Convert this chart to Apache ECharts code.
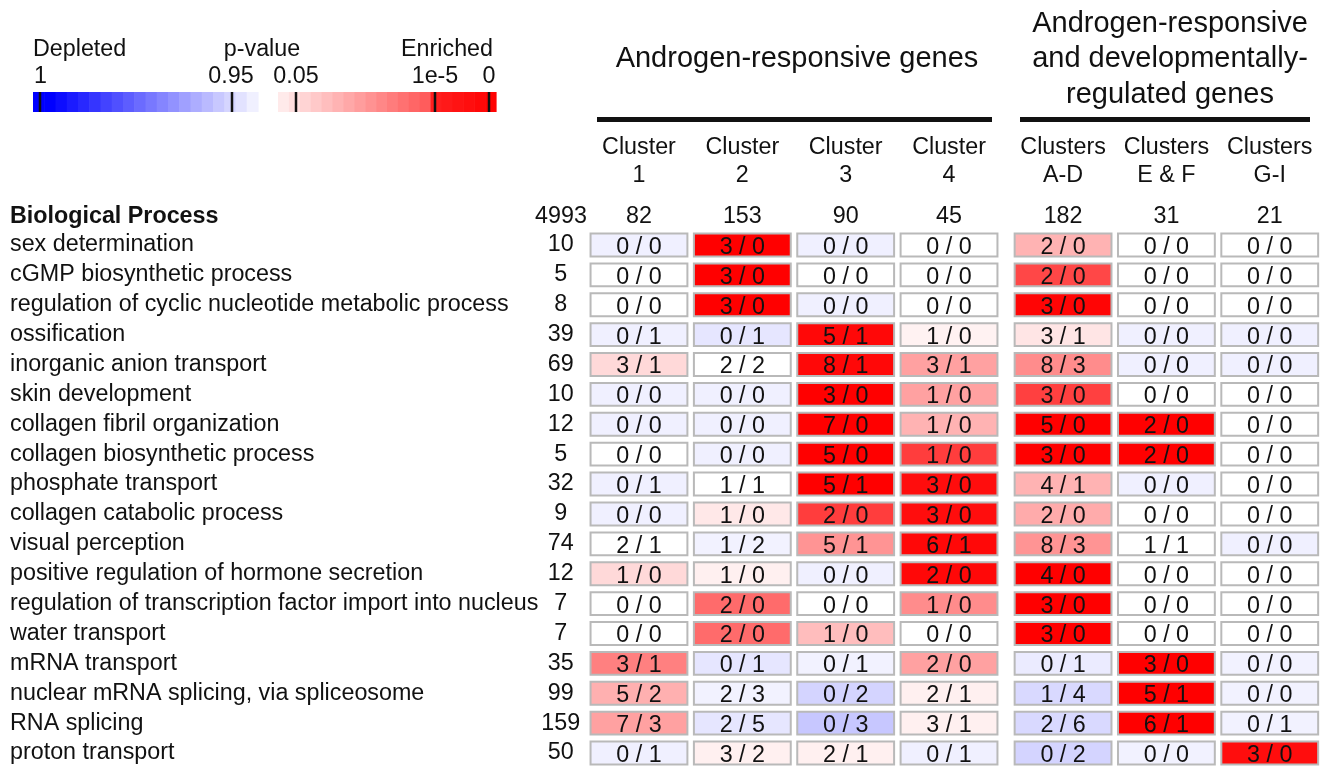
<!DOCTYPE html>
<html><head><meta charset="utf-8">
<script src="https://cdn.jsdelivr.net/npm/echarts@6/dist/echarts.min.js"></script>
<style>html,body{margin:0;padding:0;background:#fff}#c{width:1326px;height:768px}</style>
</head><body><div id="c"></div>
<script>
const processes = [
  'sex determination',
  'cGMP biosynthetic process',
  'regulation of cyclic nucleotide metabolic process',
  'ossification',
  'inorganic anion transport',
  'skin development',
  'collagen fibril organization',
  'collagen biosynthetic process',
  'phosphate transport',
  'collagen catabolic process',
  'visual perception',
  'positive regulation of hormone secretion',
  'regulation of transcription factor import into nucleus',
  'water transport',
  'mRNA transport',
  'nuclear mRNA splicing, via spliceosome',
  'RNA splicing',
  'proton transport'
];
const processTotals = [10, 5, 8, 39, 69, 10, 12, 5, 32, 9, 74, 12, 7, 7, 35, 99, 159, 50];
const totalAll = 4993;
const groupATitle = 'Androgen-responsive genes';
const groupBTitle = 'Androgen-responsive\nand developmentally-\nregulated genes';
const groupAColumns = ['Cluster\n1', 'Cluster\n2', 'Cluster\n3', 'Cluster\n4'];
const groupATotals = [82, 153, 90, 45];
const groupBColumns = ['Clusters\nA-D', 'Clusters\nE & F', 'Clusters\nG-I'];
const groupBTotals = [182, 31, 21];

// "up / down" gene counts per row: 4 group-A columns then 3 group-B columns
const cellLabels = [
  ['0 / 0','3 / 0','0 / 0','0 / 0','2 / 0','0 / 0','0 / 0'],
  ['0 / 0','3 / 0','0 / 0','0 / 0','2 / 0','0 / 0','0 / 0'],
  ['0 / 0','3 / 0','0 / 0','0 / 0','3 / 0','0 / 0','0 / 0'],
  ['0 / 1','0 / 1','5 / 1','1 / 0','3 / 1','0 / 0','0 / 0'],
  ['3 / 1','2 / 2','8 / 1','3 / 1','8 / 3','0 / 0','0 / 0'],
  ['0 / 0','0 / 0','3 / 0','1 / 0','3 / 0','0 / 0','0 / 0'],
  ['0 / 0','0 / 0','7 / 0','1 / 0','5 / 0','2 / 0','0 / 0'],
  ['0 / 0','0 / 0','5 / 0','1 / 0','3 / 0','2 / 0','0 / 0'],
  ['0 / 1','1 / 1','5 / 1','3 / 0','4 / 1','0 / 0','0 / 0'],
  ['0 / 0','1 / 0','2 / 0','3 / 0','2 / 0','0 / 0','0 / 0'],
  ['2 / 1','1 / 2','5 / 1','6 / 1','8 / 3','1 / 1','0 / 0'],
  ['1 / 0','1 / 0','0 / 0','2 / 0','4 / 0','0 / 0','0 / 0'],
  ['0 / 0','2 / 0','0 / 0','1 / 0','3 / 0','0 / 0','0 / 0'],
  ['0 / 0','2 / 0','1 / 0','0 / 0','3 / 0','0 / 0','0 / 0'],
  ['3 / 1','0 / 1','0 / 1','2 / 0','0 / 1','3 / 0','0 / 0'],
  ['5 / 2','2 / 3','0 / 2','2 / 1','1 / 4','5 / 1','0 / 0'],
  ['7 / 3','2 / 5','0 / 3','3 / 1','2 / 6','6 / 1','0 / 1'],
  ['0 / 1','3 / 2','2 / 1','0 / 1','0 / 2','0 / 0','3 / 0']
];
// colour score read from the cell shade: -1 = strongly depleted (blue), 0 = neutral, 1 = strongly enriched (red)
const cellScores = [
  [-0.06, 1.00, -0.06, 0.00, 0.30, 0.00, 0.00],
  [ 0.00, 1.00,  0.00, 0.00, 0.72, 0.00, 0.00],
  [ 0.00, 1.00, -0.06, 0.00, 0.98, 0.00, 0.00],
  [-0.06,-0.10,  0.97, 0.05, 0.10,-0.06,-0.06],
  [ 0.15, 0.00,  0.97, 0.37, 0.45,-0.06,-0.06],
  [-0.06,-0.06,  1.00, 0.37, 0.75, 0.00, 0.00],
  [-0.06,-0.06,  1.00, 0.30, 1.00, 1.00, 0.00],
  [ 0.00,-0.06,  1.00, 0.76, 1.00, 1.00, 0.00],
  [-0.06, 0.00,  1.00, 0.95, 0.30,-0.06, 0.00],
  [-0.06, 0.09,  0.76, 0.95, 0.33, 0.00, 0.00],
  [ 0.00,-0.05,  0.42, 0.97, 0.42, 0.00,-0.06],
  [ 0.15, 0.06, -0.06, 0.97, 1.00, 0.00, 0.00],
  [ 0.00, 0.58,  0.00, 0.45, 1.00, 0.00, 0.00],
  [ 0.00, 0.58,  0.26, 0.00, 1.00, 0.00, 0.00],
  [ 0.50,-0.10, -0.05, 0.37,-0.08, 1.00,-0.05],
  [ 0.31,-0.05, -0.17, 0.06,-0.15, 1.00,-0.05],
  [ 0.37,-0.10, -0.22, 0.06,-0.15, 1.00,-0.05],
  [-0.06, 0.06,  0.06,-0.06,-0.17,-0.05, 0.95]
];
const legendTickLabels = ['1', '0.95', '0.05', '1e-5', '0'];

const FONT = "'Liberation Sans', Arial, sans-serif";
const FS = 23.3;
const TFS = 29;

function scoreColor(s) {
  if (s >= 0) { const v = Math.round(255 * (1 - s)); return 'rgb(255,' + v + ',' + v + ')'; }
  const v = Math.round(255 * (1 + s)); return 'rgb(' + v + ',' + v + ',255)';
}

function buildData(c0, c1) {
  const d = [], labels = [];
  for (let r = 0; r < processes.length; r++) {
    for (let c = c0; c < c1; c++) {
      d.push([c - c0, r, cellScores[r][c]]);
      labels.push(cellLabels[r][c]);
    }
  }
  return { d, labels };
}
const setA = buildData(0, 4);
const setB = buildData(4, 7);

function makeRender(labels) {
  return function (params, api) {
    const p = api.coord([api.value(0), api.value(1)]);
    const sz = api.size([1, 1]);
    const w = sz[0] - 6.5, h = sz[1] - 7;
    return {
      type: 'group',
      children: [
        { type: 'rect', shape: { x: p[0] - w / 2, y: p[1] - h / 2, width: w, height: h },
          style: { fill: api.visual('color'), stroke: '#b9b9b9', lineWidth: 2 } },
        { type: 'text', style: { text: labels[params.dataIndex], x: p[0], y: p[1] + 2.5,
          align: 'center', verticalAlign: 'middle', font: FS + 'px ' + FONT, fill: '#111' } }
      ]
    };
  };
}

// legend (colour key) graphics
const legend = [];
const nSeg = 20;
const blueX0 = 33, blueX1 = 258, redX0 = 278, redX1 = 496, barY = 92, barH = 20;
for (let i = 0; i < nSeg; i++) {
  const w = (blueX1 - blueX0) / nSeg;
  const s = -1 + Math.max(0, i - 1) * (0.94 / (nSeg - 2));
  legend.push({ type: 'rect', shape: { x: blueX0 + i * w, y: barY, width: w + 0.6, height: barH }, style: { fill: scoreColor(Math.max(-1, s)) } });
}
for (let i = 0; i < nSeg; i++) {
  const w = (redX1 - redX0) / nSeg;
  const xm = redX0 + (i + 0.5) * w;
  let s;
  if (xm < 435) s = 0.06 + (xm - redX0) / (435 - redX0) * 0.62;
  else s = 0.88 + (xm - 435) / (redX1 - 435) * 0.12;
  legend.push({ type: 'rect', shape: { x: redX0 + i * w, y: barY, width: w + 0.6, height: barH }, style: { fill: scoreColor(Math.min(1, s)) } });
}
const tickXs = [40, 232, 296, 435, 489];
tickXs.forEach(function (x) {
  legend.push({ type: 'rect', shape: { x: x - 1.25, y: barY, width: 2.5, height: barH }, style: { fill: '#111' } });
});
const legendTextX = [{ x: 34, a: 'left' }, { x: 231, a: 'center' }, { x: 296, a: 'center' }, { x: 435, a: 'center' }, { x: 489, a: 'center' }];
legendTickLabels.forEach(function (t, i) {
  legend.push({ type: 'text', style: { text: t, x: legendTextX[i].x, y: 77, align: legendTextX[i].a, verticalAlign: 'middle', font: FS + 'px ' + FONT, fill: '#111' } });
});
legend.push({ type: 'text', style: { text: 'Depleted', x: 33, y: 50, align: 'left', verticalAlign: 'middle', font: FS + 'px ' + FONT, fill: '#111' } });
legend.push({ type: 'text', style: { text: 'p-value', x: 262, y: 50, align: 'center', verticalAlign: 'middle', font: FS + 'px ' + FONT, fill: '#111' } });
legend.push({ type: 'text', style: { text: 'Enriched', x: 493, y: 50, align: 'right', verticalAlign: 'middle', font: FS + 'px ' + FONT, fill: '#111' } });

// headers
const headers = [
  { type: 'text', style: { text: groupATitle, x: 797, y: 59, align: 'center', verticalAlign: 'middle', font: TFS + 'px ' + FONT, fill: '#111' } },
  { type: 'text', style: { text: groupBTitle, x: 1170, y: 59, align: 'center', verticalAlign: 'middle', lineHeight: 35.5, font: TFS + 'px ' + FONT, fill: '#111' } },
  { type: 'rect', shape: { x: 597, y: 117, width: 395, height: 5 }, style: { fill: '#111' } },
  { type: 'rect', shape: { x: 1020, y: 117, width: 290, height: 5 }, style: { fill: '#111' } },
  { type: 'text', style: { text: 'Biological Process', x: 10, y: 217, align: 'left', verticalAlign: 'middle', font: 'bold ' + FS + 'px ' + FONT, fill: '#111' } },
  { type: 'text', style: { text: String(totalAll), x: 561, y: 217, align: 'center', verticalAlign: 'middle', font: FS + 'px ' + FONT, fill: '#111' } }
];

const hideAxis = { axisLine: { show: false }, axisTick: { show: false }, splitLine: { show: false } };
const lbl = { fontFamily: FONT, fontSize: FS, color: '#111' };

const option = {
  animation: false,
  backgroundColor: '#fff',
  grid: [
    { left: 587.3, top: 230, width: 413.4, height: 540 },
    { left: 1011.4, top: 230, width: 310, height: 540 }
  ],
  xAxis: [
    Object.assign({ type: 'category', gridIndex: 0, position: 'top', data: groupAColumns,
      axisLabel: Object.assign({ formatter: function (v, i) { return String(groupATotals[i]); }, margin: 13, verticalAlign: 'middle', interval: 0 }, lbl) }, hideAxis),
    Object.assign({ type: 'category', gridIndex: 0, position: 'top', data: groupAColumns,
      axisLabel: Object.assign({ margin: 68, verticalAlign: 'middle', lineHeight: 28, interval: 0 }, lbl) }, hideAxis),
    Object.assign({ type: 'category', gridIndex: 1, position: 'top', data: groupBColumns,
      axisLabel: Object.assign({ formatter: function (v, i) { return String(groupBTotals[i]); }, margin: 13, verticalAlign: 'middle', interval: 0 }, lbl) }, hideAxis),
    Object.assign({ type: 'category', gridIndex: 1, position: 'top', data: groupBColumns,
      axisLabel: Object.assign({ margin: 68, verticalAlign: 'middle', lineHeight: 28, interval: 0 }, lbl) }, hideAxis)
  ],
  yAxis: [
    Object.assign({ type: 'category', gridIndex: 0, position: 'left', inverse: true, data: processes,
      axisLabel: Object.assign({ align: 'left', margin: 577.3, interval: 0, padding: [4, 0, 0, 0] }, lbl) }, hideAxis),
    Object.assign({ type: 'category', gridIndex: 0, position: 'left', inverse: true, data: processTotals.map(String),
      axisLabel: Object.assign({ align: 'center', margin: 26.5, interval: 0, padding: [4, 0, 0, 0] }, lbl) }, hideAxis),
    Object.assign({ type: 'category', gridIndex: 1, position: 'left', inverse: true, data: processes,
      axisLabel: { show: false } }, hideAxis)
  ],
  visualMap: {
    show: false, type: 'continuous', min: -1, max: 1, dimension: 2, seriesIndex: [0, 1],
    inRange: { color: ['#0000ff', '#ffffff', '#ff0000'] }
  },
  graphic: legend.concat(headers),
  series: [
    { type: 'custom', xAxisIndex: 0, yAxisIndex: 0, data: setA.d, renderItem: makeRender(setA.labels), clip: false },
    { type: 'custom', xAxisIndex: 2, yAxisIndex: 2, data: setB.d, renderItem: makeRender(setB.labels), clip: false }
  ]
};
const chart = echarts.init(document.getElementById('c'), null, { renderer: 'canvas' });
chart.setOption(option);
</script></body></html>
